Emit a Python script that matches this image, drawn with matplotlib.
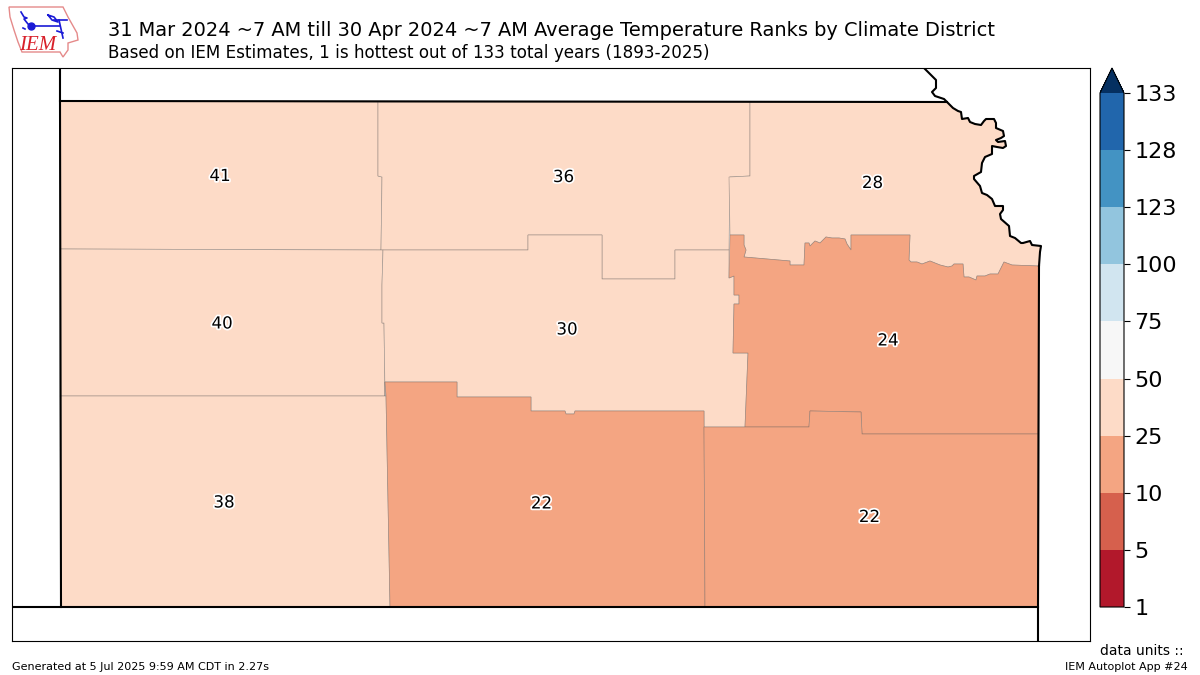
import matplotlib
matplotlib.use("Agg")
import matplotlib.pyplot as plt
import matplotlib.patheffects as pe
from matplotlib.colors import ListedColormap, BoundaryNorm
from matplotlib.cm import ScalarMappable
from matplotlib.patches import Polygon

W, H = 1200, 675

# ---- data ----
bounds = [1, 5, 10, 25, 50, 75, 100, 123, 128, 133]
band_colors = ["#b2182b", "#d6604d", "#f4a582", "#fddbc7", "#f7f7f7",
               "#d1e5f0", "#92c5de", "#4393c3", "#2166ac"]
over_color = "#053061"

district_names = ["NW", "NC", "NE", "WC", "C", "EC", "SW", "SC", "SE"]
district_ranks = [41, 36, 28, 40, 30, 24, 38, 22, 22]
label_x = [220, 563.5, 872.5, 222, 567, 888, 224, 541.5, 869.5]
label_y = [176, 177, 183, 323.5, 329.5, 340.5, 502.5, 503.5, 517]

river = [(924, 68), (930, 74), (936, 80), (936, 88), (932, 92), (935, 96), (944, 99),
         (947, 102), (953, 108), (958, 111), (961, 112), (962, 119), (968, 118), (970, 122),
         (975, 124), (981, 125), (984, 121), (986, 119), (994, 119), (996, 123), (996, 128),
         (1003, 131), (1004, 136), (1001, 138), (996, 140), (998, 142), (1005, 141),
         (1006, 146), (1003, 148), (997, 147), (992, 146), (992, 154), (985, 157), (982, 163),
         (981, 172), (974, 176), (974, 179), (980, 186), (982, 193), (987, 195), (992, 199),
         (995, 206), (1003, 206), (1003, 210), (1000, 214), (1001, 219), (1009, 226),
         (1010, 236), (1015, 238), (1021, 243), (1023, 243), (1030, 241), (1032, 245),
         (1041, 246), (1040, 252), (1039, 266)]

ec_north = [(730, 235), (744, 235), (744, 245), (746, 250), (744, 257), (790, 261), (790, 265),
            (804, 265), (805, 243), (809, 243), (810, 246), (815, 241), (820, 243), (826, 237),
            (832, 238), (839, 238), (845, 239), (847, 244), (851, 250), (851, 235), (910, 235),
            (909, 260), (911, 262), (917, 262), (922, 264), (930, 261), (940, 265), (948, 267),
            (952, 266), (954, 264), (963, 264), (964, 277), (969, 277), (976, 280), (977, 276),
            (985, 276), (990, 274), (998, 274), (1001, 268), (1004, 262), (1012, 265), (1039, 266)]
ec_west = [(730, 235), (729, 278), (734, 276), (734, 295), (739, 295), (739, 304), (734, 304),
           (733, 353), (748, 353), (745, 427)]
sc_north = [(385, 382), (457, 382), (457, 397), (531, 397), (531, 411), (565, 411), (566, 414),
            (574, 414), (575, 411), (704, 411)]
se_north = [(704, 427), (745, 427), (809, 427), (810, 411), (861, 412), (862, 434), (1038, 434)]

polygons = {
    "NW": [(60, 101), (378, 102), (378, 176), (382, 177), (381, 250), (60, 249)],
    "NC": [(378, 102), (750, 102), (750, 176), (730, 177), (729, 250), (675, 250), (675, 279),
           (602, 279), (602, 235), (528, 235), (528, 250), (381, 250), (382, 177), (378, 176)],
    "NE": [(750, 102), (947, 102)] + river[8:] + ec_north[::-1] + [(729, 177), (750, 176)],
    "WC": [(60, 249), (383, 250), (382, 285), (382, 323), (384, 323), (385, 396), (60, 396)],
    "C": [(383, 250), (528, 250), (528, 235), (602, 235), (602, 279), (675, 279), (675, 250),
          (729, 250)] + ec_west[1:] + [(704, 427)] + sc_north[::-1] + [(385, 396), (384, 323),
          (382, 323), (382, 285)],
    "EC": ec_north + se_north[::-1][:-1] + ec_west[::-1][1:],
    "SW": [(60, 396), (386, 396), (390, 607), (61, 607)],
    "SC": sc_north + [(705, 607), (390, 607), (386, 396), (385, 382)],
    "SE": se_north + [(1038, 607), (705, 607), (704, 427)],
}

state_line = [(60, 68), (60, 101), (61, 607)]
north_line = [(60, 101), (947, 102)]
south_line = [(12, 607), (1038, 607)]
east_line = [(1039, 266), (1038, 607), (1038, 641)]

title = "31 Mar 2024 ~7 AM till 30 Apr 2024 ~7 AM Average Temperature Ranks by Climate District"
subtitle = "Based on IEM Estimates, 1 is hottest out of 133 total years (1893-2025)"
footer_left = "Generated at 5 Jul 2025 9:59 AM CDT in 2.27s"
footer_right = "IEM Autoplot App #24"

iowa_outline = [(9, 7), (63, 7), (68, 17), (77, 33), (78, 40), (68, 43), (68, 50), (63, 57),
                (60, 52), (22, 52), (18, 42), (14, 30), (10, 17)]
logo_blue = [[(21, 12), (24, 17), (27, 18), (24, 19), (28, 24), (31, 26)], [(31, 26), (60, 26)],
             [(48, 15), (54, 17), (58, 22), (52, 20), (48, 15)], [(54, 20), (67, 20)],
             [(59, 20), (63, 38)], [(57, 31), (63, 33)], [(23, 28), (25, 29)]]


# ---- drawing ----
def box(x0, y0, x1, y1):
    return [x0 / W, 1 - y1 / H, (x1 - x0) / W, (y1 - y0) / H]


fig = plt.figure(figsize=(W / 100, H / 100), dpi=100)
cmap = ListedColormap(band_colors).with_extremes(over=over_color)
norm = BoundaryNorm(bounds, cmap.N)

ax = fig.add_axes(box(12, 68, 1090, 641))
ax.set_xlim(12, 1090)
ax.set_ylim(641, 68)
ax.set_xticks([])
ax.set_yticks([])

for name, rank in zip(district_names, district_ranks):
    ax.add_patch(Polygon(polygons[name], closed=True, facecolor=cmap(norm(rank)),
                         edgecolor=(0.35, 0.35, 0.35, 0.45), linewidth=0.5, zorder=2))

for line in (state_line, north_line, south_line, east_line, river):
    xs, ys = zip(*line)
    ax.plot(xs, ys, color="black", lw=1.5, zorder=4, solid_joinstyle="round")

for x, y, rank in zip(label_x, label_y, district_ranks):
    ax.text(x, y, str(rank), fontsize=12, ha="center", va="center", color="black", zorder=5,
            path_effects=[pe.withStroke(linewidth=2.5, foreground="white")])

cax = fig.add_axes(box(1100, 68, 1124, 607))
cb = fig.colorbar(ScalarMappable(norm=norm, cmap=cmap), cax=cax, extend="max",
                  extendfrac=0.0486, spacing="uniform", ticks=bounds)
cb.ax.tick_params(labelsize=16, length=4, width=0.8, pad=3.5)
cb.ax.set_yticklabels([str(b) for b in bounds])
cb.minorticks_off()

fig.text(108 / W, 1 - 30 / H, title, fontsize=13.97, ha="left", va="center")
fig.text(108 / W, 1 - 52.5 / H, subtitle, fontsize=12.06, ha="left", va="center")
fig.text(12 / W, 1 - 667 / H, footer_left, fontsize=8, ha="left", va="center")
fig.text(1188 / W, 1 - 667 / H, footer_right, fontsize=8, ha="right", va="center")
fig.text(1184 / W, 1 - 651 / H, "data units ::", fontsize=10, ha="right", va="center")

logo = fig.add_axes([0, 0, 1, 1], facecolor="none")
logo.set_xlim(0, W)
logo.set_ylim(H, 0)
logo.axis("off")
logo.add_patch(Polygon(iowa_outline, closed=True, fill=False, edgecolor="#e58a8a", lw=1.0))
for seg in logo_blue:
    xs, ys = zip(*seg)
    logo.plot(xs, ys, color="#1a1ad6", lw=1.2)
logo.plot([31], [26], "o", color="#1a1ad6", ms=5)
logo.text(38, 45, "IEM", family="Liberation Serif", style="italic", fontsize=15,
          color="#d8202a", ha="center", va="center")

fig.savefig("out.png", dpi=100)
